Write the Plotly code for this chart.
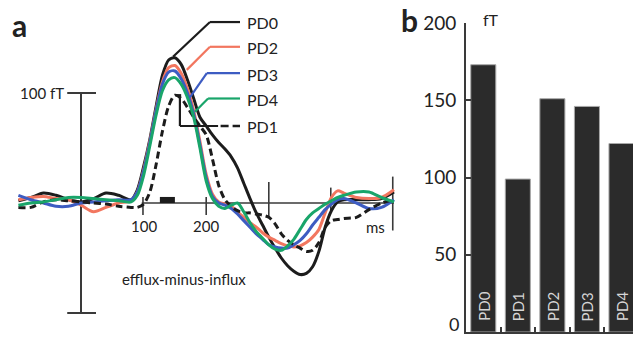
import plotly.graph_objects as go

W, H = 633, 338
FONT = "Lato"

# ---------------- data: panel a (waveforms, fT vs ms) ----------------
time_ms = [-100, -80, -60, -40, -20, 0, 20, 40, 60, 80,
           90, 100, 110, 120, 130, 140, 150, 160, 170, 180,
           190, 200, 210, 220, 230, 240, 250, 260, 270, 280,
           290, 300, 310, 320, 330, 340, 350, 360, 370, 380,
           390, 400, 410, 420, 440, 460, 480, 500]

pd0 = [2, 5, 9, 7, 3, 1, 4, 9, 7, 3,
       12, 33, 58, 88, 116, 130, 132, 126, 112, 95,
       78, 70, 62, 55, 49, 42, 32, 18, 4, -9,
       -20, -31, -41, -50, -57, -62, -65, -64, -58, -44,
       -22, -7, 1, 3, 3, 3, 4, 10]

pd2 = [3, 5, 6, 4, 3, -2, -8, -4, 0, 2,
       10, 30, 56, 85, 110, 123, 125, 118, 104, 84,
       56, 26, 8, 1, -1, -3, -8, -13, -18, -22,
       -27, -31, -34, -37, -39, -40, -39, -36, -31, -24,
       -9, 5, 11, 9, 5, 4, 5, 12]

pd3 = [7, 3, 0, -3, -3, 0, 1, 2, 3, 3,
       10, 29, 55, 84, 108, 119, 120, 113, 100, 81,
       53, 23, 6, 0, -2, -5, -10, -16, -22, -28,
       -33, -38, -40, -41, -41, -38, -34, -28, -20, -13,
       -6, -1, 3, 4, 0, -5, -4, 3]

pd4 = [-2, 0, 1, 3, 5, 5, 4, 3, 2, 1,
       7, 25, 52, 80, 102, 112, 114, 108, 96, 78,
       50, 20, 4, -3, -5, -2, 0, -8, -18, -26,
       -32, -38, -42, -43, -39, -33, -24, -15, -9, -5,
       -1, 2, 5, 7, 10, 10, 5, 1]

pd1 = [-4, -4, 1, 3, 2, 1, 0, -1, -3, -4,
       -4, -1, 10, 35, 65, 88, 98, 95, 87, 78,
       70, 62, 40, 16, 3, -3, -7, -9, -9, -10,
       -11, -13, -19, -28, -34, -38, -41, -44, -43, -36,
       -22, -16, -15, -14, -13, -6, 0, 3]

series_names = ["PD0", "PD2", "PD3", "PD1", "PD4"]
series_values = [pd0, pd2, pd3, pd1, pd4]
series_colors = ["#1c1c1c", "#f2765f", "#3d5cc2", "#1c1c1c", "#19a56a"]
series_dash = ["solid", "solid", "solid", "7px,4px", "solid"]

axis_tick_labels = ["100", "200"]

# ---------------- data: panel b (bar amplitudes, fT) ----------------
bar_labels = ["PD0", "PD1", "PD2", "PD3", "PD4"]
bar_values = [173, 99, 151, 146, 122]
bar_ticks = [0, 50, 100, 150, 200]
bar_ticktext = ["", "50", "100", "150", "200"]   # "0" is placed separately so it stays in view

# ---------------- panel a geometry (pixel mapping) ----------------
X0, PX_MS = 81.0, 0.626
Y0, PX_FT = 203.0, 1.10
xa_range = [(0 - X0) / PX_MS, (400 - X0) / PX_MS]
ya_range = [(Y0 - H) / PX_FT, Y0 / PX_FT]

fig = go.Figure()

for name, vals, col, dash in zip(series_names, series_values, series_colors, series_dash):
    fig.add_trace(go.Scatter(
        x=time_ms, y=vals, mode="lines", name=name,
        line=dict(color=col, width=3, dash=dash, shape="spline", smoothing=0.8),
        xaxis="x", yaxis="y", showlegend=False, hoverinfo="skip"))

fig.add_trace(go.Bar(
    x=bar_labels, y=bar_values, xaxis="x2", yaxis="y2",
    marker=dict(color="#2b2b2b", line=dict(color="#a8a8a8", width=1)),
    showlegend=False, hoverinfo="skip"))

shapes = []
AX = "#3a3a3a"

def seg(x0, y0, x1, y1, color=AX, width=1.6, dash="solid"):
    shapes.append(dict(type="line", xref="x", yref="y", x0=x0, y0=y0, x1=x1, y1=y1,
                       line=dict(color=color, width=width, dash=dash), layer="below"))

# vertical scale bar (±100 fT) at t = 0
seg(0, -100, 0, 100, width=2)
seg(-22, 100, 24, 100, width=2)
seg(-22, -100, 24, -100, width=2)
# time axis and ticks
seg(97, 0, 500, 0)
seg(99, 5.5, 99, -11)
seg(200, 5.5, 200, -11)
seg(300, 19, 300, -13)
seg(399, 14, 399, -9)
seg(498, 24, 498, -25)
# stimulus window marker
shapes.append(dict(type="rect", xref="x", yref="y", x0=126, x1=150, y0=0, y1=5.5,
                   fillcolor="#1c1c1c", line=dict(width=0)))

# callout lines to labels
LBL_T = 254
callouts = [
    ("PD0", "#1c1c1c", [(147, 133), (206, 164.5), (LBL_T, 164.5)]),
    ("PD2", "#f2765f", [(169, 121), (206, 142), (LBL_T, 142)]),
    ("PD3", "#3d5cc2", [(174, 96), (201, 118), (LBL_T, 118)]),
    ("PD4", "#19a56a", [(182, 83), (203, 95), (LBL_T, 95)]),
]
for _, col, pts in callouts:
    for (a, b), (c, d) in zip(pts[:-1], pts[1:]):
        shapes.append(dict(type="line", xref="x", yref="y", x0=a, y0=b, x1=c, y1=d,
                           line=dict(color=col, width=2.2)))
# PD1 bracket
for (a, b, c, d) in [(152, 98, 160, 98), (158, 98, 158, 70), (158, 70, 219, 70)]:
    shapes.append(dict(type="line", xref="x", yref="y", x0=a, y0=b, x1=c, y1=d,
                       line=dict(color="#1c1c1c", width=2.2)))
shapes.append(dict(type="line", xref="x", yref="y", x0=223, y0=70, x1=LBL_T, y1=70,
                   line=dict(color="#1c1c1c", width=2.6, dash="8px,4px")))

annotations = []
def txt(x, y, s, size=15, xanchor="center", yanchor="middle", bold=False, xref="x", yref="y",
        color="#222222", angle=0, yshift=0):
    annotations.append(dict(x=x, y=y, xref=xref, yref=yref, text=("<b>%s</b>" % s) if bold else s,
                            showarrow=False, xanchor=xanchor, yanchor=yanchor, textangle=angle,
                            yshift=yshift, font=dict(family=FONT, size=size, color=color)))

for lbl, v in zip(["PD0", "PD2", "PD3", "PD4", "PD1"], [164.5, 141, 117, 94, 70]):
    txt(262, v, lbl, size=16, xanchor="left")
for lbl, t in zip(axis_tick_labels, [100, 200]):
    txt(t, -21, lbl, size=15)
txt(470, -22, "ms", size=15)
txt(-24, 100, "100 fT", size=15, xanchor="right")
txt(165, -69, "efflux-minus-influx", size=15)
# bar labels inside the bars (rotated)
for lbl in bar_labels:
    txt(lbl, 0, lbl, size=15, yanchor="bottom", xref="x2", yref="y2",
        color="#d6d6d6", angle=-90, yshift=9)
# "0" tick label of panel b, kept inside the page
txt(461 / W, 0, "0", size=18, xanchor="right", yanchor="bottom", xref="paper", yref="paper",
    yshift=1)
# panel letters
txt(10 / W, 1 - 25 / H, "a", size=30, xanchor="left", bold=True, xref="paper", yref="paper")
txt(399 / W, 1 - 20 / H, "b", size=30, xanchor="left", bold=True, xref="paper", yref="paper")
txt(481 / W, 1 - 20 / H, "fT", size=16, xanchor="left", xref="paper", yref="paper")

fig.update_layout(
    width=W, height=H, margin=dict(l=0, r=0, t=0, b=0, autoexpand=False),
    paper_bgcolor="white", plot_bgcolor="white",
    font=dict(family=FONT, color="#222222"),
    bargap=0.275,
    xaxis=dict(domain=[0, 400 / W], range=xa_range, visible=False, fixedrange=True,
               automargin=False),
    yaxis=dict(domain=[0, 1], range=ya_range, visible=False, fixedrange=True,
               automargin=False),
    xaxis2=dict(domain=[466 / W, 1], anchor="y2", type="category", automargin=False,
                range=[-0.5, (W - 483.5) / 34.5], showline=True, linecolor=AX, linewidth=1.6,
                ticks="inside", tickson="boundaries", ticklen=5, tickcolor=AX, tickwidth=1.5,
                showticklabels=False, showgrid=False, zeroline=False),
    yaxis2=dict(domain=[6 / H, 315 / H], anchor="x2", range=[0, 200],
                tickvals=bar_ticks, ticktext=bar_ticktext,
                automargin=False,
                showline=True, linecolor=AX, linewidth=1.6, ticks="inside", ticklen=5,
                tickcolor=AX, tickwidth=1.5, showgrid=False, zeroline=False,
                tickfont=dict(family=FONT, size=19, color="#222222"), ticklabelstandoff=4),
    shapes=shapes, annotations=annotations,
)

fig.write_html("out.html")
